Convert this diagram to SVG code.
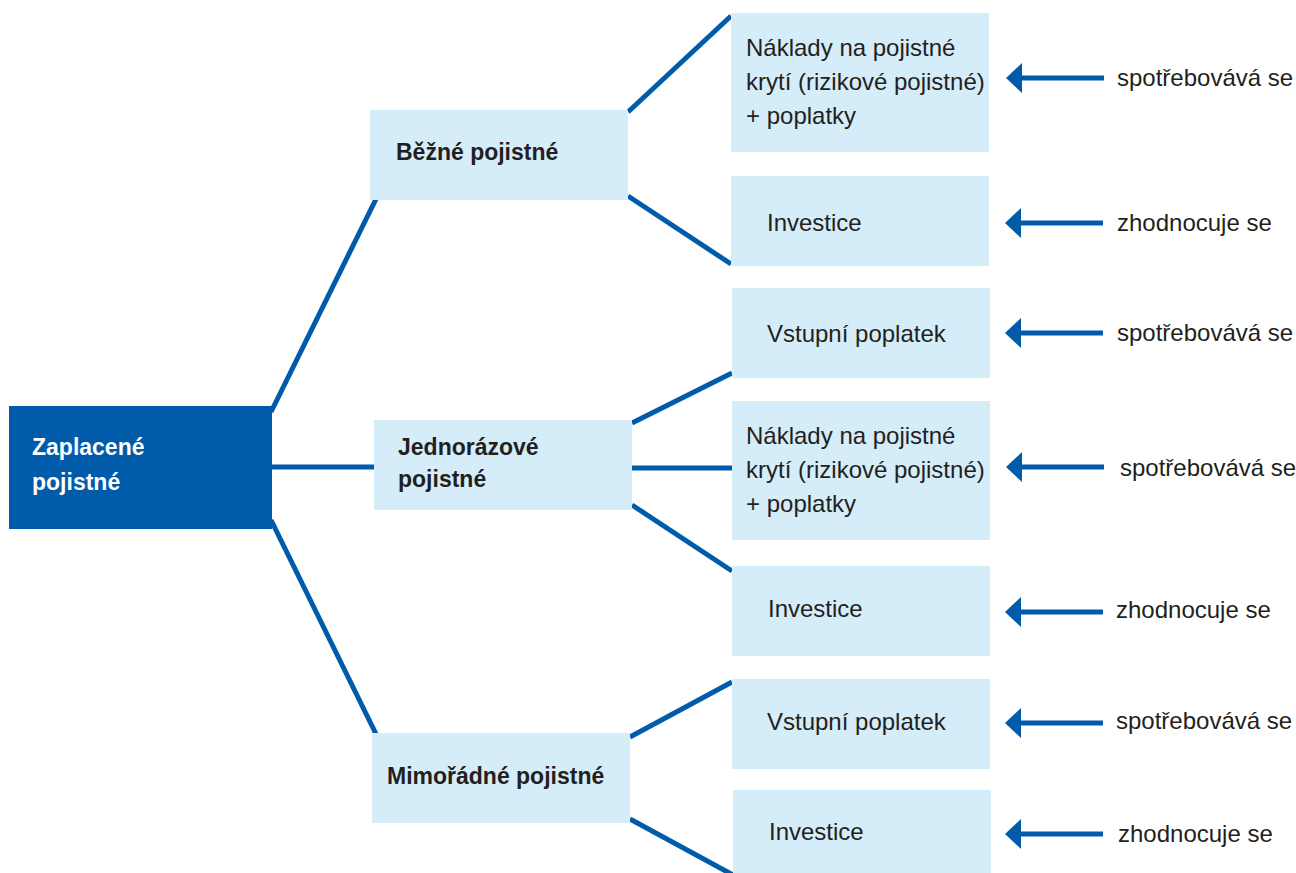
<svg xmlns="http://www.w3.org/2000/svg" width="1296" height="873" viewBox="0 0 1296 873">
<style>
.root{fill:#005BAA}
.box{fill:#D5ECF9}
.tb{font-family:"Liberation Sans Narrow","Liberation Sans",Arial,sans-serif;font-weight:bold;font-size:23px;fill:#231F20}
.tw{font-family:"Liberation Sans Narrow","Liberation Sans",Arial,sans-serif;font-weight:bold;font-size:23px;fill:#FFFFFF}
.t{font-family:"Liberation Sans Narrow","Liberation Sans",Arial,sans-serif;font-size:24px;fill:#231F20}
.ln{stroke:#005BAA;stroke-width:5;fill:none}
.ar{fill:#005BAA}
</style>
<defs>
<g id="arrow">
<rect x="14" y="-2.5" width="84" height="5" class="ar"/>
<polygon points="0,0 16,-15 16,15" class="ar"/>
</g>
</defs>
<g id="connectors">
<line class="ln" x1="271" y1="412" x2="376" y2="199"/>
<line class="ln" x1="271" y1="467" x2="374" y2="467"/>
<line class="ln" x1="271" y1="520" x2="376" y2="734"/>
<line class="ln" x1="628" y1="112" x2="731" y2="16"/>
<line class="ln" x1="628" y1="196" x2="731" y2="264"/>
<line class="ln" x1="632" y1="423" x2="732" y2="373"/>
<line class="ln" x1="632" y1="468" x2="732" y2="468"/>
<line class="ln" x1="632" y1="505" x2="732" y2="571"/>
<line class="ln" x1="630" y1="737" x2="732" y2="682"/>
<line class="ln" x1="630" y1="819" x2="733" y2="875"/>
<use href="#arrow" x="1006" y="78"/>
<use href="#arrow" x="1005" y="223"/>
<use href="#arrow" x="1005" y="333"/>
<use href="#arrow" x="1006" y="467"/>
<use href="#arrow" x="1005" y="612"/>
<use href="#arrow" x="1005" y="723"/>
<use href="#arrow" x="1005" y="834"/>
</g>
<g id="n-root">
<rect class="root" x="9" y="406" width="263" height="123"/>
<text class="tw" x="32" y="455">Zaplacené</text>
<text class="tw" x="32" y="490">pojistné</text>
</g>
<g id="n-bezne">
<rect class="box" x="370" y="110" width="258" height="90"/>
<text class="tb" x="396" y="160">Běžné pojistné</text>
</g>
<g id="n-jednorazove">
<rect class="box" x="374" y="420" width="258" height="90"/>
<text class="tb" x="398" y="455">Jednorázové</text>
<text class="tb" x="398" y="487">pojistné</text>
</g>
<g id="n-mimoradne">
<rect class="box" x="372" y="733" width="258" height="90"/>
<text class="tb" x="387" y="784">Mimořádné pojistné</text>
</g>
<g id="n-b1">
<rect class="box" x="731" y="13" width="258" height="139"/>
<text class="t" x="746" y="56">Náklady na pojistné</text>
<text class="t" x="746" y="90">krytí (rizikové pojistné)</text>
<text class="t" x="746" y="124">+ poplatky</text>
</g>
<g id="n-b2">
<rect class="box" x="731" y="176" width="258" height="90"/>
<text class="t" x="767" y="231">Investice</text>
</g>
<g id="n-j1">
<rect class="box" x="732" y="288" width="258" height="90"/>
<text class="t" x="767" y="342">Vstupní poplatek</text>
</g>
<g id="n-j2">
<rect class="box" x="732" y="401" width="258" height="139"/>
<text class="t" x="746" y="444">Náklady na pojistné</text>
<text class="t" x="746" y="478">krytí (rizikové pojistné)</text>
<text class="t" x="746" y="512">+ poplatky</text>
</g>
<g id="n-j3">
<rect class="box" x="732" y="566" width="258" height="90"/>
<text class="t" x="768" y="617">Investice</text>
</g>
<g id="n-m1">
<rect class="box" x="732" y="679" width="258" height="90"/>
<text class="t" x="767" y="730">Vstupní poplatek</text>
</g>
<g id="n-m2">
<rect class="box" x="733" y="790" width="258" height="90"/>
<text class="t" x="769" y="840">Investice</text>
</g>
<g id="labels">
<text class="t" x="1117" y="86">spotřebovává se</text>
<text class="t" x="1117" y="231">zhodnocuje se</text>
<text class="t" x="1117" y="341">spotřebovává se</text>
<text class="t" x="1120" y="476">spotřebovává se</text>
<text class="t" x="1116" y="618">zhodnocuje se</text>
<text class="t" x="1116" y="729">spotřebovává se</text>
<text class="t" x="1118" y="842">zhodnocuje se</text>
</g>
</svg>
